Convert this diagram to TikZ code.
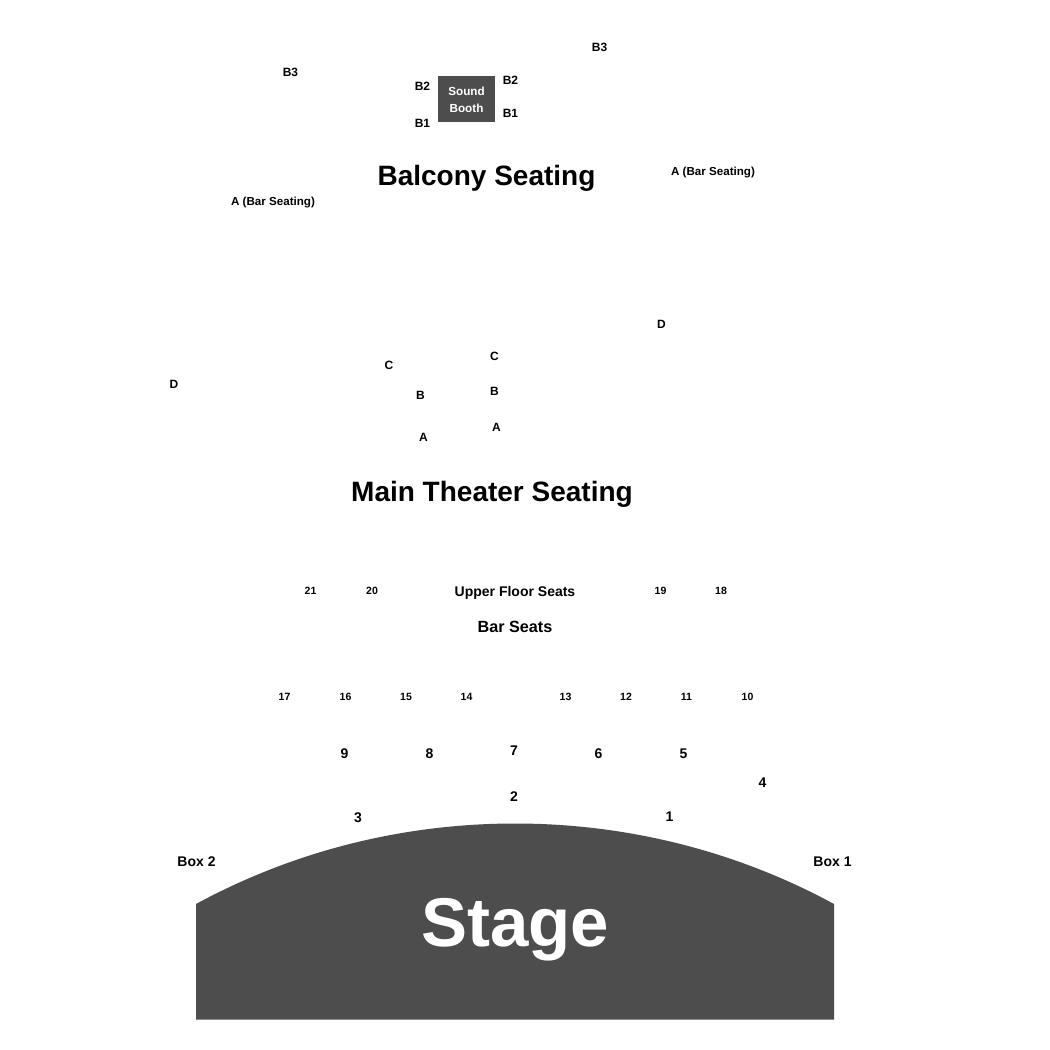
\documentclass[tikz,border=0pt]{standalone}
\usepackage{fontspec}
\setmainfont{Liberation Sans}
\definecolor{stagegray}{RGB}{77,77,77}
\tikzset{
	x=1pt, y=-1pt,
	seatlabel/.style={font=\bfseries\fontsize{#1}{#1}\selectfont, text=black, inner sep=0pt},
	seatlabel/.default=12,
	blocklabel/.style={font=\bfseries\fontsize{#1}{#1}\selectfont, text=white, inner sep=0pt, align=center},
}
\begin{document}
\begin{tikzpicture}
		\useasboundingbox[fill=white] (0,0) rectangle (1050,1050);
		
		% stage
		\fill[stagegray] (196,904) .. controls (293.9,850.8) and (403.6,823.5) .. (515,823.5) .. controls (626.4,823.5) and (736.1,850.8) .. (834,904) -- (834,1019.5) -- (196,1019.5) -- cycle;
		\node[blocklabel=69] (stage) at (515,929.5) {Stage};
		
		% sound booth
		\fill[stagegray] (438,76) rectangle (495,122);
		\node[blocklabel=11.7] (soundtext) at (466.5,100) {Sound\\[5pt]Booth};
		
		% headings
		\node[seatlabel=28] (balcony) at (486.5,178) {Balcony Seating};
		\node[seatlabel=28] (maintheater) at (492,494) {Main Theater Seating};
		\node[seatlabel=14] (upperfloor) at (515,593) {Upper Floor Seats};
		\node[seatlabel=16.2] (barseats) at (515,627) {Bar Seats};
		
		% balcony rows
		\node[seatlabel=12] (bthreeL) at (290.5,72) {B3};
		\node[seatlabel=12] (bthreeR) at (599.5,47) {B3};
		\node[seatlabel=12] (btwoL) at (422.5,86) {B2};
		\node[seatlabel=12] (btwoR) at (510.5,80) {B2};
		\node[seatlabel=12] (boneL) at (422.5,123) {B1};
		\node[seatlabel=12] (boneR) at (510.5,113) {B1};
		\node[seatlabel=11.6] (barL) at (273,203) {A (Bar Seating)};
		\node[seatlabel=11.6] (barR) at (713,173) {A (Bar Seating)};
		
		% main rows
		\node[seatlabel=12] (dL) at (174,384) {D};
		\node[seatlabel=12] (dR) at (661.5,324.5) {D};
		\node[seatlabel=12] (cL) at (389,365) {C};
		\node[seatlabel=12] (cR) at (494.5,356) {C};
		\node[seatlabel=12] (bL) at (420.5,395) {B};
		\node[seatlabel=12] (bR) at (494.5,391) {B};
		\node[seatlabel=12] (aL) at (423.5,437) {A};
		\node[seatlabel=12] (aR) at (496.5,427) {A};
		
		% upper floor tables
		\node[seatlabel=10.5] (t21) at (310.5,591) {21};
		\node[seatlabel=10.5] (t20) at (372,591) {20};
		\node[seatlabel=10.5] (t19) at (660.5,591) {19};
		\node[seatlabel=10.5] (t18) at (721,591) {18};
		
		% floor tables
		\node[seatlabel=10.5] (t17) at (284.5,697) {17};
		\node[seatlabel=10.5] (t16) at (345.5,697) {16};
		\node[seatlabel=10.5] (t15) at (406,697) {15};
		\node[seatlabel=10.5] (t14) at (466.5,697) {14};
		\node[seatlabel=10.5] (t13) at (565.5,697) {13};
		\node[seatlabel=10.5] (t12) at (626,697) {12};
		\node[seatlabel=10.5] (t11) at (686.5,697) {11};
		\node[seatlabel=10.5] (t10) at (747.5,697) {10};
		
		\node[seatlabel=14] (t9) at (344.5,754) {9};
		\node[seatlabel=14] (t8) at (429.5,754) {8};
		\node[seatlabel=14] (t7) at (514,751) {7};
		\node[seatlabel=14] (t6) at (598.5,754) {6};
		\node[seatlabel=14] (t5) at (683.5,754) {5};
		\node[seatlabel=14] (t4) at (762.5,783) {4};
		\node[seatlabel=14] (t3) at (358,818) {3};
		\node[seatlabel=14] (t2) at (514,797) {2};
		\node[seatlabel=14] (t1) at (669.5,817) {1};
		
		% boxes
		\node[seatlabel=14] (boxtwo) at (196.5,862) {Box 2};
		\node[seatlabel=14] (boxone) at (832.5,862) {Box 1};
\end{tikzpicture}
\end{document}
